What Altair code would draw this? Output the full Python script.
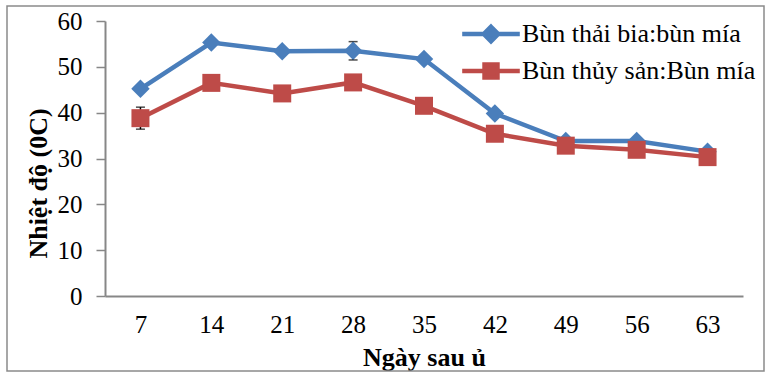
import altair as alt
import pandas as pd

days = ["7", "14", "21", "28", "35", "42", "49", "56", "63"]
series_names = ["Bùn thải bia:bùn mía", "Bùn thủy sản:Bùn mía"]
bia = [45.2, 55.3, 53.4, 53.5, 51.7, 39.8, 33.8, 33.8, 31.5]
thuy_san = [38.8, 46.5, 44.2, 46.6, 41.5, 35.4, 32.8, 31.9, 30.3]
bia_err = [0.5, 0.6, 0.6, 2.0, 0.6, 0.6, 0.4, 0.4, 0.4]
thuy_san_err = [2.4, 0.6, 0.6, 0.6, 0.6, 0.6, 0.4, 0.4, 0.4]
colors = ["#4A7EBB", "#BE4B48"]
y_ticks = [0, 10, 20, 30, 40, 50, 60]

rows = []
for name, vals, errs in [(series_names[0], bia, bia_err), (series_names[1], thuy_san, thuy_san_err)]:
    for d, v, e in zip(days, vals, errs):
        rows.append({"day": d, "series": name, "value": v, "lo": v - e, "hi": v + e})
df = pd.DataFrame(rows)

FONT = "Liberation Serif"
GRAY = "#878787"

diamond_path = "M-3.2,0L3.2,0M0,-0.8L0.8,0L0,0.8L-0.8,0Z"
square_path = "M-3.2,0L3.2,0M-0.72,-0.72L0.72,-0.72L0.72,0.72L-0.72,0.72Z"

color_scale = alt.Scale(domain=series_names, range=colors)

x_enc = alt.X("day:O", sort=days,
              scale=alt.Scale(type="point", padding=0.5),
              axis=alt.Axis(title="Ngày sau ủ", labelAngle=0, ticks=False, tickSize=0,
                            labelPadding=16, titleY=69, titleBaseline="alphabetic",
                            domainColor=GRAY, domainWidth=2))
y_enc = alt.Y("value:Q", scale=alt.Scale(domain=[0, 60], nice=False),
              axis=alt.Axis(title="Nhiệt độ (0C)", values=y_ticks, grid=False,
                            tickSize=9, tickColor=GRAY, tickWidth=1.5,
                            domainColor=GRAY, domainWidth=2, labelPadding=14,
                            titleX=-59, titleY=162, titleAngle=270,
                            titleBaseline="alphabetic", titleAlign="center"))

x_plain = alt.X("day:O", sort=days)

base = alt.Chart(df)

frame = alt.Chart(pd.DataFrame({"f": [0]})).mark_rect(
    fillOpacity=0, stroke="#8a8a8a", strokeWidth=1.5
).encode(x=alt.value(-98), x2=alt.value(659), y=alt.value(-15), y2=alt.value(350))

layers = [frame]
for i, name in enumerate(series_names):
    sub = base.transform_filter(alt.datum.series == name)
    layers.append(sub.mark_line(strokeWidth=4.5, color=colors[i]).encode(
        x=x_enc if i == 0 else x_plain, y=y_enc if i == 0 else alt.Y("value:Q")))

layers.append(base.mark_rule(color="black", strokeWidth=1.5).encode(
    x=x_plain, y=alt.Y("lo:Q"), y2="hi:Q"))
layers.append(base.mark_tick(color="black", thickness=1.5, size=9).encode(
    x=x_plain, y=alt.Y("lo:Q")))
layers.append(base.mark_tick(color="black", thickness=1.5, size=9).encode(
    x=x_plain, y=alt.Y("hi:Q")))

for i, (name, shape, size) in enumerate([(series_names[0], "diamond", 340), (series_names[1], "square", 324)]):
    sub = base.transform_filter(alt.datum.series == name)
    layers.append(sub.mark_point(shape=shape, filled=True, size=size, opacity=1, color=colors[i]).encode(
        x=x_plain, y=alt.Y("value:Q")))

leg = alt.Legend(title=None, orient="none", legendX=373, legendY=0, padding=0,
                 labelFont=FONT, labelFontSize=26, labelColor="black", labelLimit=0,
                 labelOffset=18, rowPadding=4, symbolSize=324,
                 symbolStrokeWidth=4.5, symbolOpacity=1)

legend_layer = base.mark_point(filled=True, opacity=0).encode(
    x=x_plain, y=alt.Y("value:Q"),
    color=alt.Color("series:N", scale=color_scale, legend=leg),
    stroke=alt.Stroke("series:N", scale=color_scale, legend=leg),
    shape=alt.Shape("series:N", scale=alt.Scale(domain=series_names, range=[diamond_path, square_path]), legend=leg),
)
layers.append(legend_layer)

chart = alt.layer(*layers).properties(
    width=638, height=275,
    autosize=alt.AutoSizeParams(type="none"),
    padding={"left": 105, "top": 21, "right": 23, "bottom": 76},
    background="white",
).configure_view(strokeWidth=0).configure_axis(
    labelFont=FONT, labelFontSize=25, labelColor="black",
    titleFont=FONT, titleFontSize=26, titleFontWeight="bold", titleColor="black",
).configure_legend(
    labelFont=FONT, labelFontSize=26, labelColor="black", labelLimit=0,
)

chart.save("out.html", embed_options={"renderer": "svg", "actions": False})
